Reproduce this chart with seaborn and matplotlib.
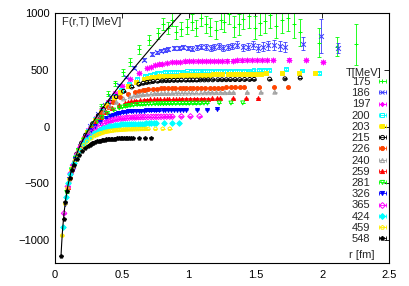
import numpy as np
import pandas as pd
import matplotlib
matplotlib.use("Agg")
import matplotlib.pyplot as plt
import seaborn as sns
from matplotlib.lines import Line2D
from matplotlib.legend_handler import HandlerLine2D

# ---------------- data ----------------
temps = ["175", "186", "197", "200", "203", "215", "226", "240",
         "259", "281", "326", "365", "424", "459", "548"]

r_line = [0.045, 0.05, 0.055, 0.06, 0.07, 0.08, 0.09, 0.1, 0.12, 0.14, 0.16, 0.18,
          0.2, 0.25, 0.3, 0.35, 0.4, 0.5, 0.6, 0.7, 0.8, 0.9, 1.0]
F_line = [-1138, -1028, -937, -860, -737, -640, -563, -498, -395, -314, -247, -189,
          -138, -27, 68, 154, 234, 385, 528, 667, 804, 937, 1070]

r_175 = [0.141, 0.199, 0.244, 0.282, 0.345, 0.399, 0.446, 0.508, 0.564, 0.630, 0.705, 0.772, 0.845, 0.902, 0.986,
         1.054, 1.127, 1.204, 1.268, 1.337, 1.409, 1.498, 1.575, 1.656, 1.743, 1.832, 1.973, 2.114, 2.254]
F_175 = [-311, -140, -39, 35, 180, 290, 380, 480, 570, 680, 760, 820, 870, 830, 880,
         870, 900, 850, 920, 880, 950, 870, 930, 890, 960, 830, 740, 705, 724]
E_175 = [5, 8, 11, 14, 18, 22, 26, 30, 35, 40, 45, 50, 55, 60, 65,
         70, 75, 80, 85, 90, 95, 100, 105, 110, 115, 120, 130, 80, 180]
r_175_mid = [0.810, 0.874, 0.944, 1.022, 1.092, 1.162, 1.240, 1.303, 1.374, 1.451, 1.536, 1.613, 1.697, 1.789]
F_175_mid = [900, 940, 860, 920, 960, 880, 940, 990, 900, 970, 910, 980, 940, 900]
E_175_mid = [52, 58, 62, 68, 72, 78, 82, 88, 92, 98, 102, 108, 112, 118]

r_186 = [0.133, 0.188, 0.230, 0.265, 0.325, 0.375, 0.419, 0.478, 0.530, 0.593, 0.663, 0.726, 0.796, 0.849, 0.928,
         0.992, 1.061, 1.133, 1.193, 1.258, 1.326, 1.410, 1.483, 1.558, 1.640, 1.724, 1.856, 1.989, 2.122]
F_186 = [-342, -169, -70, 2, 109, 191, 262, 365, 440, 520, 590, 640, 670, 685, 695,
         692, 697, 700, 702, 690, 710, 698, 715, 705, 720, 700, 730, 795, 695]
E_186 = [3, 3, 4, 4, 5, 6, 7, 8, 9, 10, 12, 14, 15, 17, 18,
         20, 22, 24, 26, 28, 30, 32, 35, 38, 42, 46, 55, 150, 45]
r_186_mid = [0.762, 0.822, 0.888, 0.961, 1.028, 1.094, 1.167, 1.227, 1.293, 1.366, 1.446, 1.518, 1.598, 1.684]
F_186_mid = [655, 678, 690, 700, 685, 705, 695, 712, 700, 720, 705, 690, 718, 710]
E_186_mid = [15, 17, 18, 20, 22, 23, 25, 27, 29, 31, 34, 37, 40, 44]

r_197 = [0.125, 0.177, 0.217, 0.250, 0.307, 0.354, 0.396, 0.452, 0.501, 0.560, 0.626, 0.686, 0.751, 0.802, 0.876,
         0.937, 1.002, 1.070, 1.127, 1.188, 1.252, 1.331, 1.400, 1.471, 1.549, 1.628, 1.753, 1.878, 2.003]
F_197 = [-372, -198, -99, -28, 76, 154, 217, 294, 355, 419, 475, 513, 541, 553, 567,
         572, 575, 577, 578, 579, 580, 582, 583, 585, 587, 588, 590, 586, 570]
r_197_mid = [0.720, 0.776, 0.839, 0.908, 0.970, 1.033, 1.102, 1.158, 1.221, 1.290, 1.365, 1.434, 1.509, 1.590]
F_197_mid = [528, 548, 560, 570, 574, 576, 578, 579, 580, 581, 583, 584, 586, 588]

r_200 = [0.123, 0.174, 0.214, 0.247, 0.302, 0.349, 0.390, 0.445, 0.493, 0.551, 0.617, 0.675, 0.740, 0.790, 0.863,
         0.923, 0.986, 1.054, 1.110, 1.170, 1.233, 1.311, 1.379, 1.449, 1.525, 1.603, 1.726, 1.850, 1.973]
F_200 = [-380, -206, -107, -38, 64, 140, 200, 270, 324, 378, 421, 448, 466, 475, 481,
         484, 486, 488, 489, 490, 491, 492, 493, 494, 500, 496, 510, 494, 470]
r_200_mid = [0.709, 0.764, 0.826, 0.894, 0.956, 1.017, 1.085, 1.141, 1.202, 1.270, 1.344, 1.412, 1.486, 1.566]
F_200_mid = [458, 471, 478, 483, 485, 487, 488, 490, 491, 492, 493, 493, 496, 498]

r_203 = [0.122, 0.172, 0.210, 0.243, 0.298, 0.344, 0.384, 0.438, 0.486, 0.543, 0.608, 0.666, 0.729, 0.778, 0.851,
         0.909, 0.972, 1.038, 1.094, 1.153, 1.215, 1.292, 1.358, 1.428, 1.503, 1.580, 1.701, 1.823, 1.944]
F_203 = [-388, -213, -115, -46, 55, 129, 187, 255, 306, 355, 394, 418, 434, 442, 447,
         450, 452, 454, 456, 458, 460, 461, 463, 465, 466, 468, 470, 472, 474]
r_203_mid = [0.699, 0.753, 0.814, 0.881, 0.942, 1.002, 1.069, 1.124, 1.185, 1.251, 1.324, 1.391, 1.464, 1.543]
F_203_mid = [427, 438, 445, 448, 451, 453, 455, 457, 459, 460, 462, 464, 465, 467]

r_215 = [0.115, 0.162, 0.199, 0.229, 0.281, 0.324, 0.363, 0.414, 0.459, 0.513, 0.574, 0.628, 0.688, 0.734, 0.803,
         0.858, 0.918, 0.980, 1.032, 1.088, 1.147, 1.219, 1.282, 1.348, 1.419, 1.491, 1.606, 1.721, 1.835]
F_215 = [-420, -242, -144, -75, 24, 96, 152, 217, 264, 311, 349, 373, 389, 397, 403,
         406, 408, 409, 410, 411, 412, 413, 413, 414, 415, 416, 418, 421, 428]
r_215_mid = [0.660, 0.711, 0.768, 0.832, 0.889, 0.946, 1.009, 1.061, 1.118, 1.181, 1.250, 1.313, 1.382, 1.457]
F_215_mid = [382, 393, 400, 405, 407, 409, 410, 410, 411, 412, 413, 414, 414, 415]

r_226 = [0.109, 0.154, 0.189, 0.218, 0.267, 0.309, 0.345, 0.393, 0.436, 0.488, 0.546, 0.598, 0.655, 0.699, 0.764,
         0.816, 0.873, 0.932, 0.982, 1.035, 1.091, 1.160, 1.220, 1.282, 1.350, 1.418, 1.527, 1.637, 1.746]
F_226 = [-448, -267, -169, -101, -6, 63, 116, 174, 217, 257, 289, 308, 322, 329, 334,
         337, 339, 340, 341, 342, 343, 343, 344, 345, 345, 346, 347, 348, 349]
r_226_mid = [0.627, 0.676, 0.731, 0.791, 0.846, 0.900, 0.960, 1.009, 1.064, 1.124, 1.189, 1.249, 1.315, 1.386]
F_226_mid = [315, 326, 332, 336, 338, 339, 341, 341, 342, 343, 344, 344, 345, 346]

r_240 = [0.103, 0.145, 0.178, 0.206, 0.252, 0.291, 0.325, 0.371, 0.411, 0.460, 0.514, 0.563, 0.617, 0.658, 0.720,
         0.769, 0.822, 0.878, 0.925, 0.975, 1.028, 1.093, 1.149, 1.208, 1.272, 1.336, 1.439, 1.542, 1.645]
F_240 = [-482, -297, -198, -131, -38, 29, 79, 135, 176, 214, 244, 262, 275, 282, 288,
         291, 293, 294, 295, 296, 297, 297, 298, 299, 299, 300, 301, 302, 303]
r_240_mid = [0.591, 0.637, 0.689, 0.745, 0.797, 0.848, 0.905, 0.951, 1.002, 1.059, 1.121, 1.177, 1.239, 1.306]
F_240_mid = [269, 279, 285, 290, 292, 293, 295, 295, 296, 297, 298, 298, 299, 300]

r_259 = [0.095, 0.135, 0.165, 0.190, 0.233, 0.269, 0.301, 0.343, 0.381, 0.426, 0.476, 0.521, 0.571, 0.610, 0.666,
         0.712, 0.762, 0.813, 0.857, 0.903, 0.952, 1.012, 1.064, 1.119, 1.178, 1.238, 1.333, 1.428, 1.523]
F_259 = [-528, -336, -237, -170, -77, -13, 35, 88, 127, 162, 191, 208, 222, 229, 236,
         239, 241, 242, 243, 244, 245, 246, 246, 247, 248, 248, 249, 250, 251]
r_259_mid = [0.547, 0.590, 0.638, 0.690, 0.738, 0.785, 0.838, 0.881, 0.928, 0.981, 1.038, 1.090, 1.147, 1.209]
F_259_mid = [216, 226, 233, 238, 240, 241, 243, 243, 244, 245, 246, 247, 247, 248]

r_281 = [0.088, 0.124, 0.152, 0.176, 0.215, 0.248, 0.278, 0.317, 0.351, 0.393, 0.439, 0.481, 0.527, 0.562, 0.615,
         0.657, 0.702, 0.750, 0.790, 0.833, 0.878, 0.933, 0.982, 1.032, 1.086, 1.141, 1.229, 1.317, 1.405]
F_281 = [-579, -379, -277, -209, -117, -55, -8, 44, 82, 117, 146, 164, 179, 186, 194,
         197, 199, 201, 202, 203, 204, 204, 205, 206, 206, 207, 208, 208, 209]
r_281_mid = [0.505, 0.544, 0.588, 0.637, 0.680, 0.724, 0.773, 0.812, 0.856, 0.904, 0.957, 1.005, 1.058, 1.115]
F_281_mid = [172, 183, 190, 196, 198, 200, 201, 202, 203, 204, 205, 205, 206, 207]

r_326 = [0.076, 0.107, 0.131, 0.151, 0.185, 0.214, 0.239, 0.273, 0.303, 0.339, 0.379, 0.415, 0.454, 0.485, 0.530,
         0.567, 0.606, 0.647, 0.681, 0.718, 0.757, 0.805, 0.846, 0.890, 0.936, 0.984, 1.060, 1.136, 1.211]
F_326 = [-679, -461, -352, -282, -189, -126, -80, -29, 9, 44, 75, 95, 110, 120, 131,
         136, 139, 141, 143, 144, 145, 146, 147, 147, 148, 149, 149, 150, 156]
r_326_mid = [0.435, 0.469, 0.507, 0.549, 0.587, 0.625, 0.666, 0.700, 0.738, 0.780, 0.825, 0.867, 0.912, 0.961]
F_326_mid = [103, 116, 126, 134, 137, 140, 142, 143, 144, 145, 146, 147, 148, 148]

r_365 = [0.068, 0.096, 0.117, 0.135, 0.166, 0.191, 0.214, 0.244, 0.270, 0.302, 0.338, 0.370, 0.406, 0.433, 0.473,
         0.506, 0.541, 0.578, 0.608, 0.641, 0.676, 0.719, 0.756, 0.794, 0.836, 0.879, 0.946, 1.014, 1.082]
F_365 = [-763, -527, -412, -339, -244, -182, -137, -87, -52, -17, 13, 32, 48, 57, 68,
         73, 77, 80, 82, 84, 85, 86, 87, 87, 88, 88, 89, 90, 91]
r_365_mid = [0.389, 0.419, 0.453, 0.490, 0.524, 0.558, 0.595, 0.625, 0.659, 0.696, 0.737, 0.774, 0.815, 0.859]
F_365_mid = [40, 53, 63, 71, 75, 79, 81, 83, 84, 85, 86, 87, 88, 88]

r_424 = [0.058, 0.082, 0.101, 0.116, 0.143, 0.165, 0.184, 0.210, 0.233, 0.260, 0.291, 0.319, 0.349, 0.373, 0.407,
         0.436, 0.466, 0.497, 0.524, 0.552, 0.582, 0.619, 0.651, 0.684, 0.720, 0.757, 0.815, 0.873, 0.931]
F_424 = [-886, -623, -497, -418, -317, -253, -206, -157, -121, -87, -57, -36, -19, -9, 3,
         10, 15, 19, 22, 24, 25, 26, 27, 28, 28, 29, 29, 30, 31]
r_424_mid = [0.335, 0.361, 0.390, 0.422, 0.451, 0.480, 0.512, 0.538, 0.567, 0.599, 0.634, 0.666, 0.701, 0.739]
F_424_mid = [-27, -14, -3, 7, 12, 17, 21, 23, 24, 26, 27, 27, 28, 29]

r_459 = [0.054, 0.076, 0.093, 0.107, 0.132, 0.152, 0.170, 0.194, 0.215, 0.240, 0.269, 0.294, 0.322, 0.344, 0.376,
         0.402, 0.430, 0.459, 0.483, 0.510, 0.537, 0.571, 0.600, 0.631, 0.664, 0.698, 0.752, 0.806, 0.859]
F_459 = [-959, -678, -545, -463, -360, -294, -248, -198, -164, -132, -103, -84, -68, -59, -47,
         -41, -36, -31, -29, -27, -25, -24, -23, -22, -21, -20, -20, -19, -19]
r_459_mid = [0.309, 0.333, 0.360, 0.389, 0.416, 0.443, 0.473, 0.497, 0.524, 0.553, 0.585, 0.615, 0.647, 0.682]
F_459_mid = [-76, -63, -53, -44, -38, -33, -30, -28, -26, -24, -23, -22, -21, -20]

r_548 = [0.045, 0.064, 0.078, 0.090, 0.110, 0.127, 0.142, 0.162, 0.180, 0.201, 0.225, 0.246, 0.270, 0.288, 0.315,
         0.337, 0.360, 0.384, 0.405, 0.427, 0.450, 0.478, 0.503, 0.529, 0.557, 0.585, 0.630, 0.675, 0.720]
F_548 = [-1138, -812, -662, -568, -454, -384, -335, -283, -248, -215, -186, -167, -150, -140, -129,
         -123, -117, -113, -110, -108, -105, -104, -102, -101, -100, -99, -99, -98, -97]
r_548_mid = [0.259, 0.279, 0.302, 0.326, 0.349, 0.371, 0.396, 0.416, 0.439, 0.464, 0.491, 0.515, 0.542, 0.572]
F_548_mid = [-158, -145, -134, -126, -120, -115, -111, -109, -106, -104, -103, -101, -100, -99]

# typical error of the remaining series (MeV)
E_other = {"197": 10, "200": 8, "203": 4, "215": 4, "226": 3, "240": 3, "259": 3,
           "281": 3, "326": 3, "365": 2, "424": 2, "459": 2, "548": 2}

x_ticks = [0, 0.5, 1, 1.5, 2, 2.5]
x_tick_labels = ["0", "0.5", "1", "1.5", "2", "2.5"]
y_ticks = [-1000, -500, 0, 500, 1000]

# ---------------- styles ----------------
colors = ["#00ff00", "#3a3aff", "#ff00ff", "#00ffff", "#ffee00", "#000000", "#ff4500", "#a0a0a0",
          "#ff0000", "#00ff00", "#0000ff", "#ff00ff", "#00ffff", "#ffee00", "#000000"]
markers = ["+", "x", (8, 2, 0), "s", "s", "o", "o", "^", "^", "v", "v", "D", "D", "p", "p"]
filled = [None, None, None, False, True, False, True, False, True, False, True, False, True, False, True]

rs = [r_175 + r_175_mid, r_186 + r_186_mid, r_197 + r_197_mid, r_200 + r_200_mid,
      r_203 + r_203_mid, r_215 + r_215_mid, r_226 + r_226_mid, r_240 + r_240_mid,
      r_259 + r_259_mid, r_281 + r_281_mid, r_326 + r_326_mid, r_365 + r_365_mid,
      r_424 + r_424_mid, r_459 + r_459_mid, r_548 + r_548_mid]
Fs = [F_175 + F_175_mid, F_186 + F_186_mid, F_197 + F_197_mid, F_200 + F_200_mid,
      F_203 + F_203_mid, F_215 + F_215_mid, F_226 + F_226_mid, F_240 + F_240_mid,
      F_259 + F_259_mid, F_281 + F_281_mid, F_326 + F_326_mid, F_365 + F_365_mid,
      F_424 + F_424_mid, F_459 + F_459_mid, F_548 + F_548_mid]
Es = {"175": E_175 + E_175_mid, "186": E_186 + E_186_mid}

sns.set_theme(style="white")
plt.rcParams["font.family"] = ["Liberation Sans", "DejaVu Sans"]
FS = 8

fig = plt.figure(figsize=(4.09, 2.86), dpi=100)
ax = fig.add_axes([55 / 409, 1 - 263 / 286, (389 - 55) / 409, (263 - 13) / 286])

sns.lineplot(x=r_line, y=F_line, ax=ax, color="black", lw=0.8, sort=False,
             estimator=None, zorder=5)

handles = []
hmap = {}
for i, T in enumerate(temps):
    r = np.asarray(rs[i])
    F = np.asarray(Fs[i])
    err = np.asarray(Es[T]) if T in Es else E_other[T]
    col = colors[i]
    mk = markers[i]
    ax.errorbar(r, F, yerr=err, fmt="none", ecolor=col, elinewidth=0.6,
                capsize=1.5, capthick=0.6, zorder=2 + i * 0.01)
    kws = dict(marker=mk, color=col, linewidth=0.7, zorder=3 + i * 0.01)
    if filled[i] is None:
        kws["s"] = 12
    elif filled[i]:
        kws.update(s=8, edgecolor=col)
    else:
        kws.update(s=8, facecolor="none", edgecolor=col)
    sns.scatterplot(x=r, y=F, ax=ax, legend=False, **kws)

    cap = Line2D([], [], color=col, lw=0.6, marker="|", markersize=2.6,
                 markeredgewidth=0.6)
    mfc = col if filled[i] in (None, True) else "none"
    pt = Line2D([], [], ls="none", marker=mk, color=col, markersize=3.0,
                markerfacecolor=mfc, markeredgewidth=0.7)
    hmap[cap] = HandlerLine2D(numpoints=2)
    handles.append((cap, pt))

ax.set_xlim(0, 2.5)
ax.set_ylim(-1200, 1000)
ax.set_xticks(x_ticks)
ax.set_xticklabels(x_tick_labels)
ax.set_yticks(y_ticks)
ax.tick_params(direction="in", length=3.5, width=0.6, top=True, right=True,
               labelsize=FS, colors="black")
ax.tick_params(axis="x", pad=5)
ax.tick_params(axis="y", pad=4)
for sp in ax.spines.values():
    sp.set_color("black")
    sp.set_linewidth(0.8)
ax.set_xlabel("")
ax.set_ylabel("")

leg = ax.legend(handles, temps, loc="upper right",
                bbox_to_anchor=(1.0, (263 - 77) / 250), frameon=False, markerfirst=False,
                handlelength=1.2, handletextpad=0.5, labelspacing=0.11,
                fontsize=FS, borderaxespad=0, borderpad=0, handler_map=hmap)

ax.text((382 - 55) / 334, (263 - 73) / 250, "T[MeV]", transform=ax.transAxes,
        ha="right", va="center", fontsize=FS)
ax.text(0.021, 0.984, "F(r,T) [MeV]", transform=ax.transAxes, ha="left",
        va="top", fontsize=FS)
ax.text(0.958, 0.032, "r [fm]", transform=ax.transAxes, ha="right",
        va="center", fontsize=FS)

fig.savefig("out.png", dpi=100)
